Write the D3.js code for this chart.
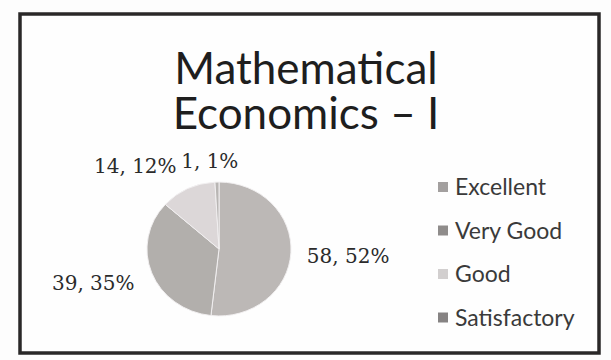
<!DOCTYPE html>
<html>
<head>
<meta charset="utf-8">
<script src="https://cdn.jsdelivr.net/npm/d3@7"></script>
<style>
  html, body { margin: 0; padding: 0; background: #fdfdfd; }
  svg { display: block; }
</style>
</head>
<body>
<div class="chart"></div>
<script>
const categories = ['Excellent', 'Very Good', 'Good', 'Satisfactory'];
const counts = [58, 39, 14, 1];
const percents = [52, 35, 12, 1];
const sliceColors = ['#bcb8b6', '#b2afac', '#dcd7d8', '#b9b6b4'];
const legendColors = ['#a3a09f', '#8f8c8b', '#d2cfcf', '#868383'];

const WIDTH = 611;
const HEIGHT = 360;
const CENTER = { x: 219, y: 249 };
const RADIUS = 72;
const LABEL_RADIUS = 100;

const data = categories.map((name, i) => ({
    name,
    count: counts[i],
    percent: percents[i],
    color: sliceColors[i],
    legendColor: legendColors[i]
}));

const svg = d3
    .select('.chart')
    .append('svg')
    .attr('width', WIDTH)
    .attr('height', HEIGHT);

// Frame
svg.append('rect')
    .attr('x', 20)
    .attr('y', 14)
    .attr('width', 579)
    .attr('height', 339)
    .attr('fill', '#fefefe')
    .attr('stroke', '#2a2828')
    .attr('stroke-width', 3.5);

// Title
const title = svg.append('text')
    .attr('text-anchor', 'middle')
    .attr('font-family', 'Lato, "Open Sans", sans-serif')
    .attr('font-size', 44)
    .attr('fill', '#1e1e1e');
title.append('tspan').attr('x', 306).attr('y', 84).text('Mathematical');
title.append('tspan').attr('x', 306).attr('y', 129).text('Economics \u2013 I');

// Pie
const pie = d3.pie().sort(null).value((d) => d.count);
const arc = d3.arc().innerRadius(0).outerRadius(RADIUS);
const arcs = pie(data);

const pieGroup = svg.append('g')
    .attr('transform', `translate(${CENTER.x}, ${CENTER.y}) scale(1, 0.93)`);

pieGroup.selectAll('.slice')
    .data(arcs)
    .join('path')
    .attr('class', 'slice')
    .attr('d', arc)
    .attr('fill', (d) => d.data.color)
    .attr('stroke', '#f2eff0')
    .attr('stroke-width', 1);

// Data labels outside the pie, nudged from the centroid like the original
const labelArc = d3.arc().innerRadius(LABEL_RADIUS).outerRadius(LABEL_RADIUS);
const labelOffsets = [
    { dx: -12, dy: 8, anchor: 'start' },
    { dx: 9, dy: 5, anchor: 'end' },
    { dx: 1, dy: 14, anchor: 'end' },
    { dx: -35, dy: 19, anchor: 'start' }
];

svg.selectAll('.label')
    .data(arcs)
    .join('text')
    .attr('class', 'label')
    .attr('font-family', '"DejaVu Serif", serif')
    .attr('font-size', 20)
    .attr('fill', '#2b2b2b')
    .attr('text-anchor', (d, i) => labelOffsets[i].anchor)
    .attr('x', (d, i) => CENTER.x + labelArc.centroid(d)[0] + labelOffsets[i].dx)
    .attr('y', (d, i) => CENTER.y + labelArc.centroid(d)[1] + labelOffsets[i].dy)
    .text((d) => `${d.data.count}, ${d.data.percent}%`);

// Legend
const legendY = d3.scaleBand()
    .domain(categories)
    .range([166, 340])
    .paddingInner(0);

const legend = svg.append('g')
    .attr('font-family', 'Lato, "Open Sans", sans-serif')
    .attr('font-size', 23);

const items = legend.selectAll('.item')
    .data(data)
    .join('g')
    .attr('class', 'item')
    .attr('transform', (d) => `translate(438, ${legendY(d.name)})`);

items.append('rect')
    .attr('x', 0)
    .attr('y', 16)
    .attr('width', 10)
    .attr('height', 10)
    .attr('fill', (d) => d.legendColor);

items.append('text')
    .attr('x', 17)
    .attr('y', 29)
    .attr('fill', '#3a3a3a')
    .text((d) => d.name);
</script>
</body>
</html>
